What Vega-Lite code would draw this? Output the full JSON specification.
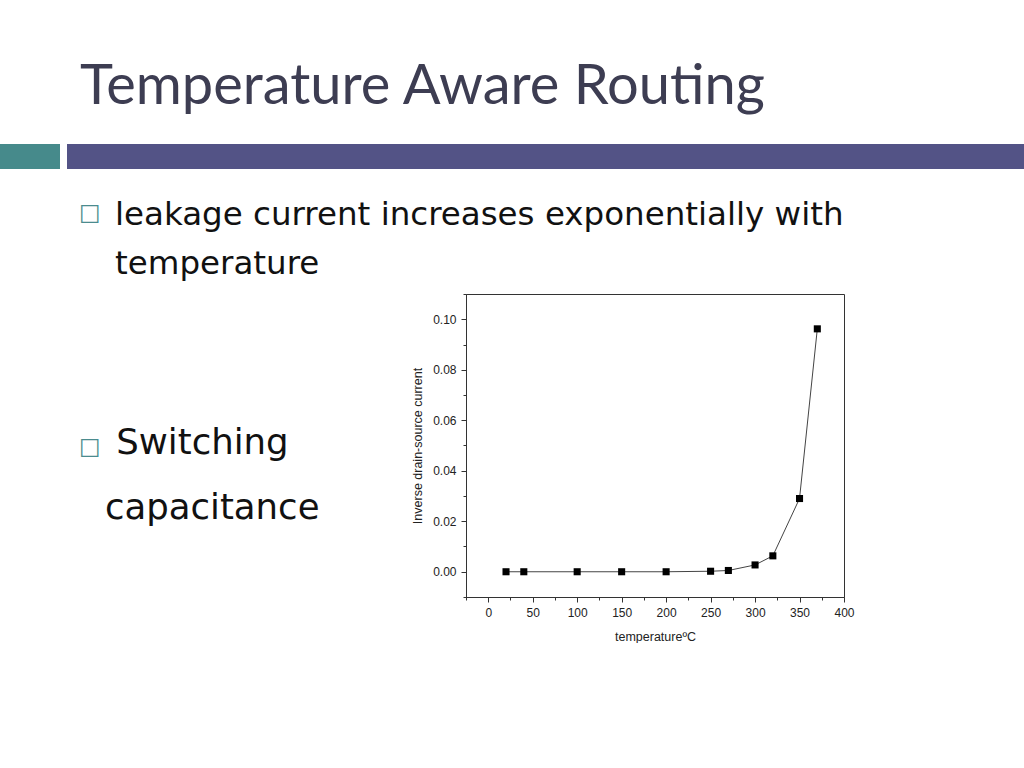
{
  "$schema": "https://vega.github.io/schema/vega-lite/v6.json",
  "background": "white",
  "padding": {"left": 0, "top": 59, "right": 0, "bottom": 0},
  "autosize": {"type": "pad"},
  "config": {"view": {"stroke": null}, "font": "Liberation Sans"},
  "title": {
    "text": "Temperature Aware Routing",
    "anchor": "start",
    "frame": "bounds",
    "dx": 80,
    "offset": 28,
    "font": "Lato",
    "fontSize": 56,
    "fontWeight": "normal",
    "color": "#3d3d52"
  },
  "spacing": 150,
  "bounds": "flush",
  "vconcat": [
    {
      "spacing": 7,
      "bounds": "flush",
      "hconcat": [
        {
          "width": 60,
          "height": 25,
          "view": {"fill": "#468a8b", "stroke": null},
          "data": {"values": [{"k": 1}]},
          "mark": {"type": "text", "text": ""},
          "title": {
            "text": ["□", "□"],
            "orient": "bottom",
            "anchor": "start",
            "frame": "group",
            "dx": 79,
            "offset": 33,
            "font": "DejaVu Sans",
            "fontSize": 23,
            "lineHeight": 234,
            "fontWeight": "normal",
            "color": "#4b8b8e"
          }
        },
        {
          "width": 957,
          "height": 25,
          "view": {"fill": "#535386", "stroke": null},
          "data": {"values": [{"k": 1}]},
          "mark": {"type": "text", "text": ""}
        }
      ]
    },
    {
      "spacing": 0,
      "bounds": "flush",
      "hconcat": [
        {
          "width": 466,
          "height": 120,
          "data": {"values": [{"k": 1}]},
          "mark": {"type": "text", "text": ""},
          "title": {
            "text": ["\u200b\u00a0Switching", "capacitance"],
            "orient": "bottom",
            "anchor": "start",
            "frame": "group",
            "dx": 105,
            "offset": 12,
            "font": "DejaVu Sans",
            "fontSize": 35.5,
            "lineHeight": 65,
            "fontWeight": "normal",
            "color": "#111111"
          }
        },
        {
          "width": 378,
          "height": 303,
          "view": {"stroke": "#333333", "strokeWidth": 1},
          "title": {
            "text": ["leakage current increases exponentially with", "temperature"],
            "anchor": "start",
            "frame": "group",
            "dx": -351,
            "offset": 8,
            "font": "DejaVu Sans",
            "fontSize": 32.5,
            "lineHeight": 49,
            "fontWeight": "normal",
            "color": "#111111"
          },
          "data": {
            "values": [
              {"temperature": 20, "current": 0},
              {"temperature": 40, "current": 0},
              {"temperature": 100, "current": 0},
              {"temperature": 150, "current": 0},
              {"temperature": 200, "current": 0},
              {"temperature": 250, "current": 0.0002},
              {"temperature": 270, "current": 0.0005},
              {"temperature": 300, "current": 0.0027},
              {"temperature": 320, "current": 0.0063},
              {"temperature": 350, "current": 0.029},
              {"temperature": 370, "current": 0.0962}
            ]
          },
          "encoding": {
            "x": {
              "field": "temperature",
              "type": "quantitative",
              "scale": {"domain": [-25, 400], "nice": false, "zero": false},
              "axis": {
                "title": "temperatureºC",
                "values": [-25, 0, 25, 50, 75, 100, 125, 150, 175, 200, 225, 250, 275, 300, 325, 350, 375, 400],
                "labelExpr": "datum.value >= 0 && datum.value % 50 === 0 ? datum.label : ''",
                "format": "d",
                "tickSize": {"condition": {"test": "datum.value % 50 === 0", "value": 5}, "value": 3},
                "grid": false,
                "domainColor": "#333333",
                "tickColor": "#333333",
                "labelFont": "Liberation Sans",
                "labelFontSize": 12,
                "labelColor": "#222222",
                "labelPadding": 5,
                "labelFlush": false,
                "labelOverlap": false,
                "titleFont": "Liberation Sans",
                "titleFontSize": 12.5,
                "titleFontWeight": "normal",
                "titleColor": "#222222",
                "titlePadding": 12
              }
            },
            "y": {
              "field": "current",
              "type": "quantitative",
              "scale": {"domain": [-0.01, 0.11], "nice": false, "zero": false},
              "axis": {
                "title": "Inverse drain-source current",
                "values": [-0.01, 0, 0.01, 0.02, 0.03, 0.04, 0.05, 0.06, 0.07, 0.08, 0.09, 0.1, 0.11],
                "labelExpr": "datum.value >= 0 && datum.value <= 0.1001 && round(datum.value * 100) % 2 === 0 ? datum.label : ''",
                "format": ".2f",
                "tickSize": {"condition": {"test": "round(datum.value * 100) % 2 === 0", "value": 5}, "value": 3},
                "grid": false,
                "domainColor": "#333333",
                "tickColor": "#333333",
                "labelFont": "Liberation Sans",
                "labelFontSize": 12,
                "labelColor": "#222222",
                "labelPadding": 5,
                "labelOverlap": false,
                "titleFont": "Liberation Sans",
                "titleFontSize": 12.5,
                "titleFontWeight": "normal",
                "titleColor": "#222222",
                "titlePadding": 8
              }
            }
          },
          "layer": [
            {"mark": {"type": "line", "color": "#444444", "strokeWidth": 1}},
            {"mark": {"type": "square", "color": "#000000", "filled": true, "opacity": 1, "size": 50}}
          ]
        }
      ]
    }
  ]
}
